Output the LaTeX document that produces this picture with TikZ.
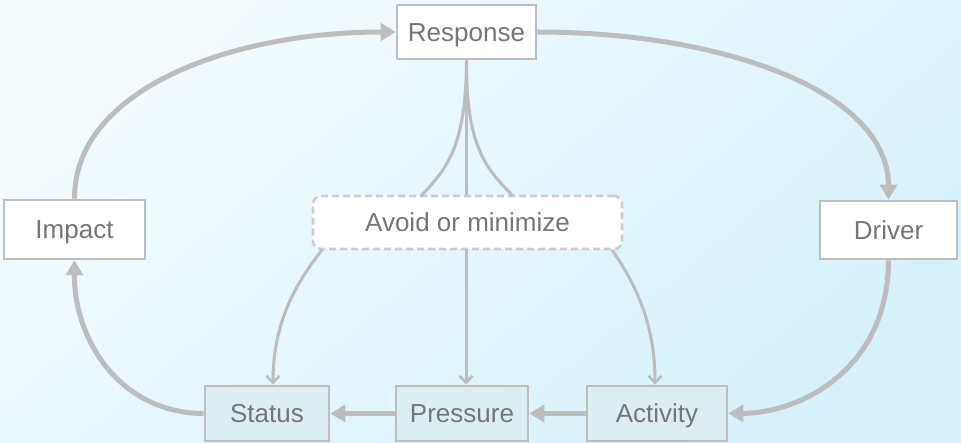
\documentclass[tikz,border=0pt]{standalone}
\usepackage{fontspec}
\setmainfont{Liberation Sans}
\usetikzlibrary{arrows.meta}
\definecolor{lineg}{HTML}{BDBDBD}
\definecolor{txtg}{HTML}{767676}
\definecolor{bgA}{HTML}{F3FBFF}
\definecolor{bgB}{HTML}{D6F1FB}
\definecolor{boxfill}{HTML}{DCEDF3}
\tikzset{
  box/.style={draw=lineg, line width=2.6pt, fill=white, text=txtg, font=\fontsize{26}{29}\selectfont, inner sep=0pt, text height=18.5pt, text depth=0pt},
  lowbox/.style={box, fill=boxfill},
  avoidbox/.style={box, dashed, dash pattern=on 7pt off 4pt, rounded corners=8pt, draw=lineg!75},
  bigarrow/.style={draw=lineg, line width=5pt, -{Triangle[length=15pt,width=17pt]}},
  thinline/.style={draw=lineg, line width=3pt},
  thinarrow/.style={thinline, -{Straight Barb[length=7pt,width=13pt,line width=2.6pt]}},
}
\begin{document}
\begin{tikzpicture}[x=1pt,y=-1pt]
\useasboundingbox (0,0) rectangle (961,443);
\shade[top color=bgA, bottom color=bgB, shading angle=40] (0,0) rectangle (961,443);

\node[box, minimum width=139pt, minimum height=54pt] (resp) at (466.5,32) {Response};
\node[box, minimum width=141pt, minimum height=59pt] (imp) at (74.5,229.5) {Impact};
\node[box, minimum width=137pt, minimum height=58pt] (drv) at (888.5,230) {Driver};
\node[avoidbox, minimum width=309pt, minimum height=53pt] (avd) at (467.5,222.5) {Avoid or minimize};
\node[lowbox, minimum width=124pt, minimum height=55pt] (sta) at (267,413.5) {Status};
\node[lowbox, minimum width=132pt, minimum height=55pt] (pre) at (462,413.5) {Pressure};
\node[lowbox, minimum width=140pt, minimum height=55pt] (act) at (657,413.5) {Activity};

% big cycle
\draw[bigarrow] (imp.north) .. controls (74,90) and (230,32) .. (resp.west);
\draw[bigarrow] (resp.east) .. controls (720,32) and (888,90) .. (drv.north);
\draw[bigarrow] (drv.south) .. controls (888,370) and (800,413) .. (act.east);
\draw[bigarrow] (act.west) -- (pre.east);
\draw[bigarrow] (pre.west) -- (sta.east);
\draw[bigarrow] (sta.west) .. controls (120,413) and (74,340) .. (imp.south);

% response to avoid
\coordinate (al) at (421,196);
\coordinate (ar) at (513,196);
\draw[thinline] (resp.south) -- (resp.south |- avd.north);
\draw[thinline] (resp.south) .. controls (466,150) and (445,170) .. (al);
\draw[thinline] (resp.south) .. controls (466,150) and (488,170) .. (ar);

% avoid to lower boxes
\coordinate (bl) at (322,250);
\coordinate (br) at (612,250);
\coordinate (bm) at (466,249);
\draw[thinarrow] (bl) .. controls (290,290) and (273,330) .. (sta.north -| 273,0);
\draw[thinarrow] (bm) -- (pre.north -| bm);
\draw[thinarrow] (br) .. controls (640,290) and (655,330) .. (act.north -| 655,0);
\end{tikzpicture}
\end{document}
